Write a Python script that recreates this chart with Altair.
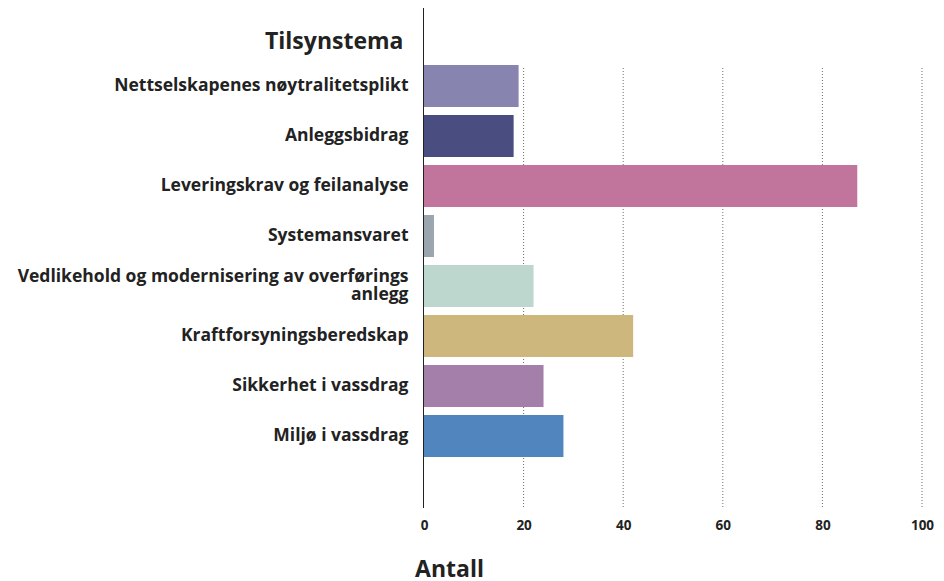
import altair as alt
import pandas as pd

categories = [
    "Nettselskapenes nøytralitetsplikt",
    "Anleggsbidrag",
    "Leveringskrav og feilanalyse",
    "Systemansvaret",
    "Vedlikehold og modernisering av overførings anlegg",
    "Kraftforsyningsberedskap",
    "Sikkerhet i vassdrag",
    "Miljø i vassdrag",
]
values = [19, 18, 87, 2, 22, 42, 24, 28]
colors = ["#8784b0", "#4a4d80", "#c1749c", "#9aa5ad", "#bdd7cf", "#ceb77c", "#a37faa", "#5086bd"]
grid_values = [20, 40, 60, 80, 100]
x_ticks = [0, 20, 40, 60, 80, 100]

FONT = "Open Sans"
WRAPPED = "Vedlikehold og modernisering av overførings anlegg"

df = pd.DataFrame({"Tema": categories, "Antall": values})
gdf = pd.DataFrame({"Antall": grid_values})

xscale = alt.Scale(domain=[0, 100], nice=False)

rules = alt.Chart(gdf).mark_rule(color="#6e6e6e", strokeDash=[1, 2], strokeWidth=1).encode(
    x=alt.X("Antall:Q", scale=xscale),
    y=alt.value(60),
    y2=alt.value(500),
)

label_expr = (
    f"datum.label == '{WRAPPED}' ? "
    "['Vedlikehold og modernisering av overførings', 'anlegg'] : datum.label"
)

bars = alt.Chart(df).mark_bar().encode(
    x=alt.X(
        "Antall:Q",
        scale=xscale,
        axis=alt.Axis(
            values=x_ticks, grid=False, ticks=False, tickSize=0, domain=False,
            labelFont=FONT, labelFontSize=13.5, labelFontWeight="bold", labelColor="#222222",
            labelPadding=10, labelFlush=False,
            title="Antall", titleFont=FONT, titleFontSize=23, titleFontWeight="bold",
            titleColor="#222222", titleX=25, titleY=68, titleAlign="center",
            titleBaseline="alphabetic",
        ),
    ),
    y=alt.Y(
        "Tema:N",
        sort=categories,
        scale=alt.Scale(range=[57, 449], paddingInner=0.16, paddingOuter=0),
        axis=alt.Axis(
            grid=False, ticks=False, tickSize=0, domain=False,
            labelFont=FONT, labelFontSize=17.5, labelFontWeight="bold", labelColor="#222222",
            labelPadding=16, labelLimit=600, labelLineHeight=18, labelExpr=label_expr,
            labelOffset={"condition": {"test": f"datum.value == '{WRAPPED}'", "value": -9}, "value": 0},
            title="Tilsynstema", titleFont=FONT, titleFontSize=23, titleFontWeight="bold",
            titleColor="#222222", titleAngle=0, titleX=-21, titleY=40, titleAlign="right",
            titleBaseline="alphabetic",
        ),
    ),
    color=alt.Color("Tema:N", scale=alt.Scale(domain=categories, range=colors), legend=None),
)

axis_line = alt.Chart(df).mark_rule(color="#222222", strokeWidth=1).encode(
    x=alt.value(-0.5), y=alt.value(0), y2=alt.value(500)
)

chart = alt.layer(rules, bars, axis_line).properties(
    width=498,
    height=500,
    autosize=alt.AutoSizeParams(type="none"),
    padding={"left": 416, "top": 0, "right": 14, "bottom": 73},
).configure_view(stroke=None)

chart.save("out.html", embed_options={"renderer": "svg", "actions": False})
